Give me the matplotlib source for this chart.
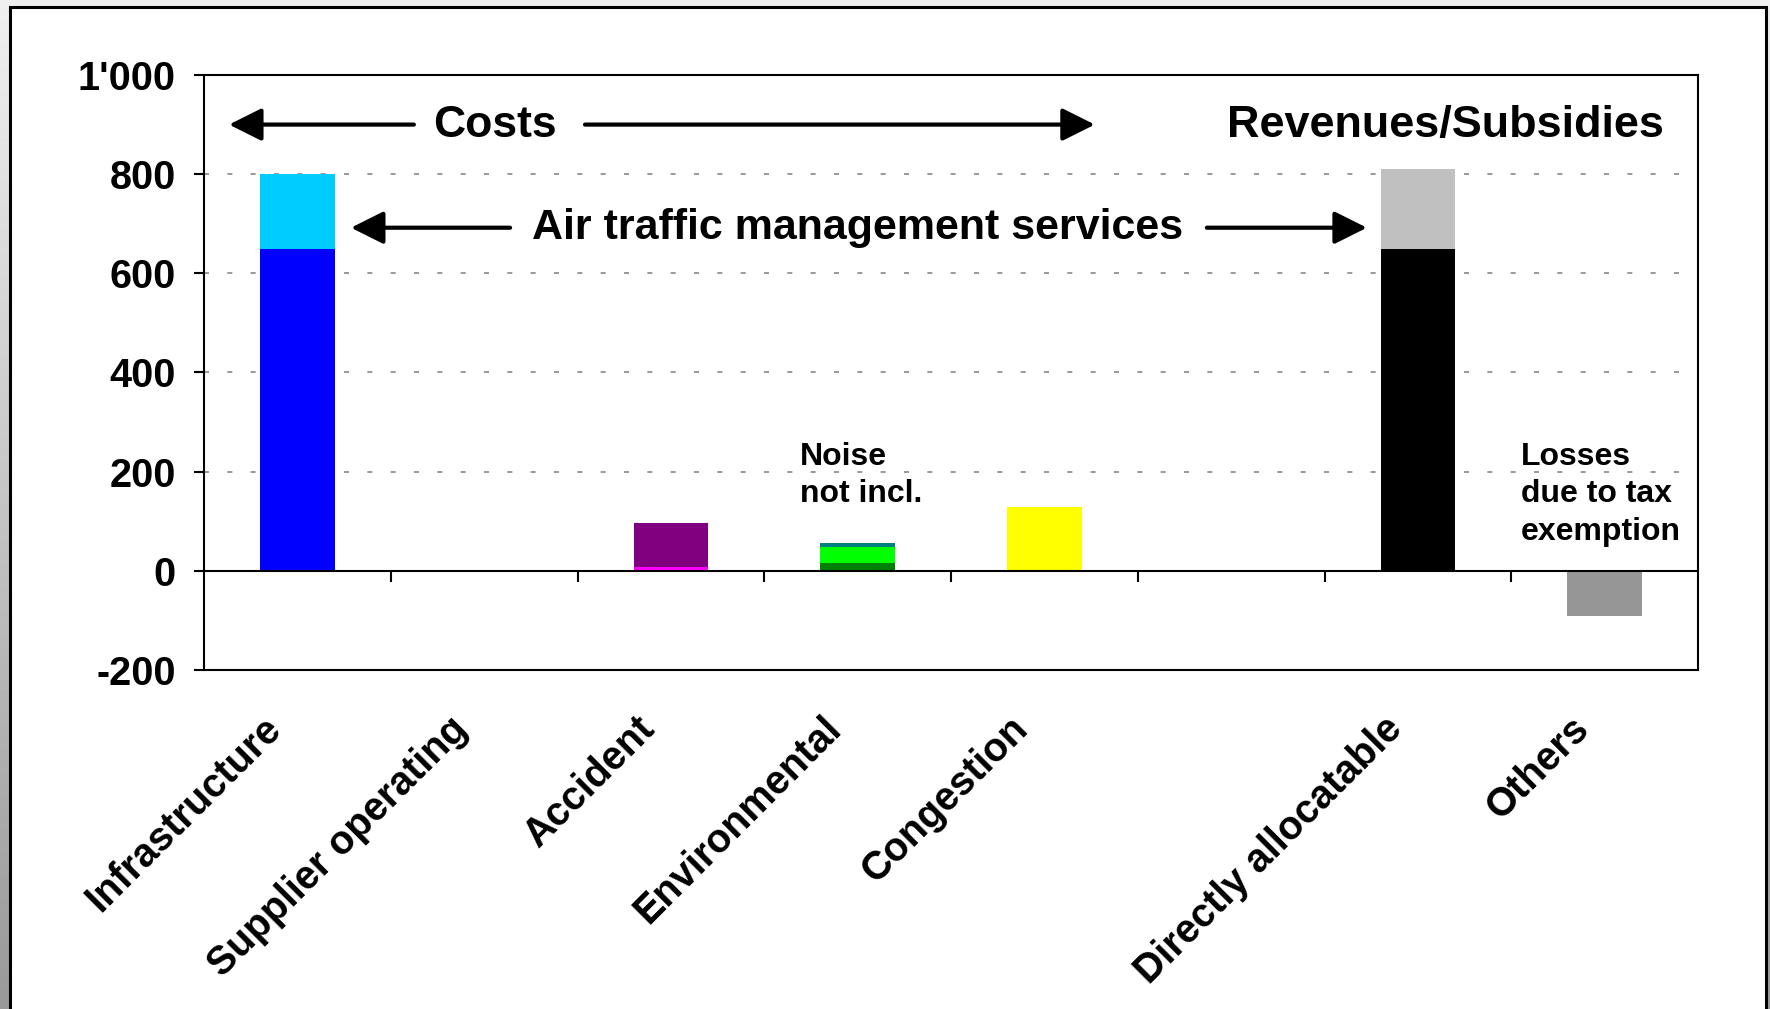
import numpy as np
import matplotlib.pyplot as plt
from matplotlib.patches import Rectangle
from matplotlib.transforms import ScaledTranslation

plt.rcParams['font.family'] = ['Liberation Sans', 'DejaVu Sans']
plt.rcParams['font.weight'] = 'bold'

# data
categories = ['Infrastructure', 'Supplier operating', 'Accident', 'Environmental',
              'Congestion', '', 'Directly allocatable', 'Others']
# stacked segments (bottom to top), one list per segment, 0 where absent
seg1 = [650, 0, 8, 15, 128, 0, 650, -92]
seg2 = [150, 0, 89, 33, 0, 0, 160, 0]
seg3 = [0, 0, 0, 8, 0, 0, 0, 0]
col1 = ['#0000ff', 'w', '#ff00ff', '#008000', '#ffff00', 'w', '#000000', '#969696']
col2 = ['#00ccff', 'w', '#800080', '#00ff00', 'w', 'w', '#c0c0c0', 'w']
col3 = ['w', 'w', 'w', '#008080', 'w', 'w', 'w', 'w']

yticks = [-200, 0, 200, 400, 600, 800, 1000]
ylabels = ['-200', '0', '200', '400', '600', '800', "1'000"]

fig = plt.figure(figsize=(17.7, 10.09), dpi=100)

# grey gradient backdrop + white slide frame
bg = fig.add_axes([0, 0, 1, 1], zorder=-10)
grad = np.linspace(0.94, 0.60, 256).reshape(-1, 1)
bg.imshow(grad, cmap='gray', vmin=0, vmax=1, aspect='auto', extent=[0, 1, 0, 1])
bg.set_xlim(0, 1); bg.set_ylim(0, 1)
bg.axis('off')
bg.add_patch(Rectangle((10 / 1770, -0.05), 1756 / 1770, 1.05 - 7 / 1009,
                       facecolor='white', edgecolor='black', lw=2.2))

ax = fig.add_axes([204 / 1770, 1 - 670 / 1009, 1494 / 1770, 595 / 1009])
x = np.arange(len(categories))
w = 0.4
b2 = np.array(seg1)
b3 = b2 + np.array(seg2)
ax.bar(x, seg1, w, color=col1, zorder=3)
ax.bar(x, seg2, w, bottom=b2, color=col2, zorder=3)
ax.bar(x, seg3, w, bottom=b3, color=col3, zorder=3)

ax.set_xlim(-0.5, len(categories) - 0.5)
ax.set_ylim(-200, 1000)
ax.set_yticks(yticks)
ax.set_yticklabels(ylabels, fontsize=28.5, fontweight='bold')
ax.tick_params(axis='y', direction='out', length=7, width=1.5, pad=13.5)
ax.set_xticks(x)
ax.set_xticklabels(categories, fontsize=28.5, fontweight='bold', rotation=45,
                   ha='right', va='center', rotation_mode='anchor')
ax.tick_params(axis='x', length=0, pad=38)
shift = ScaledTranslation(-0.22, 0, fig.dpi_scale_trans)
for lab in ax.get_xticklabels():
    lab.set_transform(lab.get_transform() + shift)
for s in ax.spines.values():
    s.set_linewidth(1.5)

# grid, zero line, category dividers
for yv in yticks[2:-1]:
    ax.axhline(yv, color='#888888', lw=1.2, ls=(0, (3, 11)), zorder=1)
ax.axhline(0, color='black', lw=1.5, zorder=4)
ax.vlines(x[:-1] + 0.5, -23, 0, color='black', lw=1.5, zorder=4)

# annotations
arrow = dict(arrowstyle='-|>,head_length=1.0,head_width=0.5', color='black',
             lw=3, mutation_scale=20, shrinkA=0, shrinkB=0)
ax.annotate('', xy=(-0.366, 900), xytext=(0.624, 900), arrowprops=arrow)
ax.annotate('', xy=(4.27, 900), xytext=(1.54, 900), arrowprops=arrow)
ax.text(1.058, 898, 'Costs', fontsize=32, fontweight='bold', ha='center', va='center')
ax.text(6.148, 898, 'Revenues/Subsidies', fontsize=32.4, fontweight='bold',
        ha='center', va='center')
ax.annotate('', xy=(0.287, 692), xytext=(1.139, 692), arrowprops=arrow)
ax.annotate('', xy=(5.727, 692), xytext=(4.87, 692), arrowprops=arrow)
ax.text(3.002, 692, 'Air traffic management services', fontsize=31,
        fontweight='bold', ha='center', va='center')
ax.text(2.692, 260, 'Noise\nnot incl.', fontsize=23, fontweight='bold',
        ha='left', va='top', linespacing=1.32)
ax.text(6.551, 260, 'Losses\ndue to tax\nexemption', fontsize=23,
        fontweight='bold', ha='left', va='top', linespacing=1.32)

fig.savefig('out.png', dpi=100)
